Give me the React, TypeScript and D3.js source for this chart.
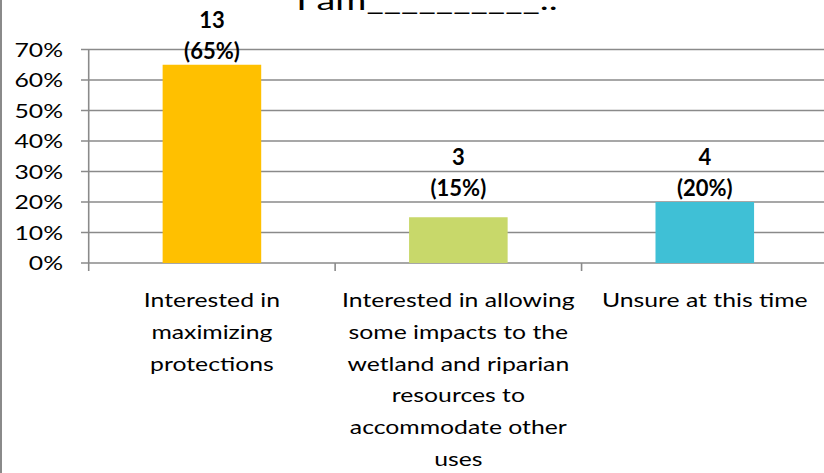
import React from "react";
import * as d3 from "d3";

const categories = [
  "Interested in maximizing protections",
  "Interested in allowing some impacts to the wetland and riparian resources to accommodate other uses",
  "Unsure at this time",
];
const categoryLines = [
  ["Interested in", "maximizing", "protections"],
  ["Interested in allowing", "some impacts to the", "wetland and riparian", "resources to", "accommodate other", "uses"],
  ["Unsure at this time"],
];
const counts = [13, 3, 4];
const shares = [0.65, 0.15, 0.2];
const labelAnchors = [0.65, 0.2, 0.2];
const colors = ["#FFC000", "#C8D86A", "#3FC0D6"];
const yTicks = [0, 0.1, 0.2, 0.3, 0.4, 0.5, 0.6, 0.7];
const title = "I am__________..";

const W = 824;
const H = 473;
const FONT = "Lato, 'Open Sans', sans-serif";
const SX = 1.27;

export default function App() {
  const x = d3.scaleBand<string>().domain(categories).range([88.7, 828]).paddingInner(0).paddingOuter(0);
  const y = d3.scaleLinear().domain([0, 0.7]).range([263, 49.5]);
  const bw = x.bandwidth() * 0.4;
  const grid = "#8a8a8a";
  const fmt = d3.format(".0%");

  return (
    <svg width={W} height={H} style={{ position: "absolute", left: 0, top: 0, background: "#fff" }} fontFamily={FONT}>
      <rect x={0} y={0} width={W} height={H} fill="#fff" />
      <line x1={1} x2={1} y1={0} y2={H} stroke="#8a8a8a" strokeWidth={2} />
      <text transform={`translate(427,10) scale(1.4,1)`} textAnchor="middle" fontSize={27} fill="#000">{title}</text>
      {yTicks.map((t) => (
        <g key={t}>
          <line x1={81} x2={W} y1={y(t)} y2={y(t)} stroke={grid} strokeWidth={1.6} />
          <text transform={`translate(63,${y(t)}) scale(${SX},1)`} dy="0.36em" textAnchor="end" fontSize={19.5} fill="#000">{fmt(t)}</text>
        </g>
      ))}
      <line x1={88.7} x2={88.7} y1={y(0.7)} y2={y(0) + 8} stroke={grid} strokeWidth={1.6} />
      {categories.map((c, i) => (
        <line key={"tk" + i} x1={(x(c) as number) + x.step()} x2={(x(c) as number) + x.step()} y1={y(0)} y2={y(0) + 8} stroke={grid} strokeWidth={1.6} />
      ))}
      {categories.map((c, i) => {
        const cx = (x(c) as number) + x.bandwidth() / 2;
        return (
          <g key={c}>
            <rect x={cx - bw / 2} y={y(shares[i])} width={bw} height={y(0) - y(shares[i])} fill={colors[i]} />
            <text x={cx} y={y(labelAnchors[i]) - 37} textAnchor="middle" fontSize={22} fontWeight="bold" fill="#000">{counts[i]}</text>
            <text x={cx} y={y(labelAnchors[i]) - 6} textAnchor="middle" fontSize={22} fontWeight="bold" fill="#000">({fmt(shares[i])})</text>
            {categoryLines[i].map((ln, j) => (
              <text key={j} transform={`translate(${cx},${307 + j * 31.8}) scale(${SX},1)`} textAnchor="middle" fontSize={19.5} fill="#000">{ln}</text>
            ))}
          </g>
        );
      })}
    </svg>
  );
}
